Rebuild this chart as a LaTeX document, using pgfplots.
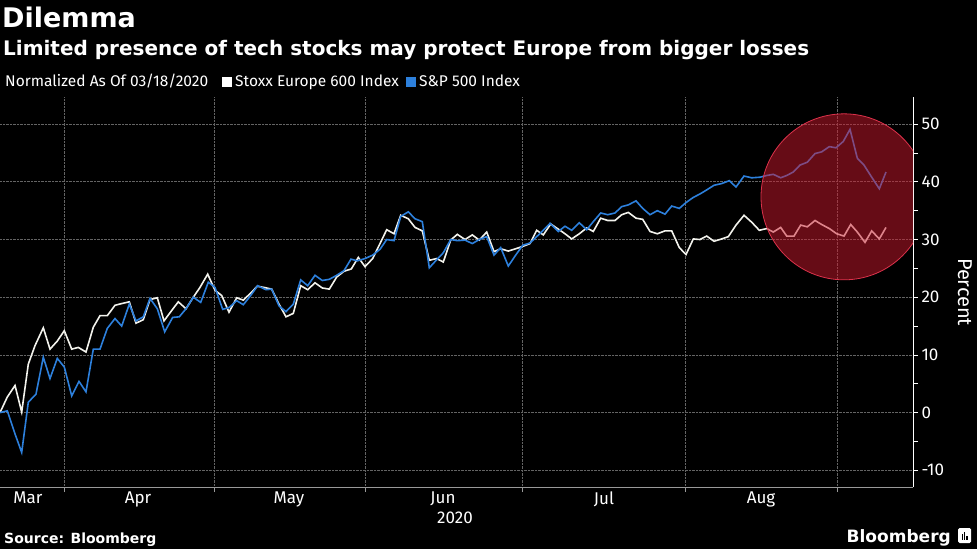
\documentclass[border=0pt]{standalone}
\usepackage{fontspec}
\setmainfont{Fira Sans}
\newfontfamily\bbold{DejaVu Sans}
\usepackage{graphicx}
\usepackage{pgfplots}
\pgfplotsset{compat=1.18}
\definecolor{spx}{RGB}{45,128,220}
\definecolor{sxx}{RGB}{242,242,236}
\definecolor{gridc}{RGB}{100,100,100}
\definecolor{circfill}{RGB}{205,25,45}
\definecolor{circedge}{RGB}{220,50,75}
\begin{document}
\begin{tikzpicture}[x=1pt,y=1pt]
\fill[black] (0,0) rectangle (977,549);
\useasboundingbox (0,0) rectangle (977,549);
% titles
\node[anchor=base west, text=white, inner sep=0, font=\bbold\bfseries\fontsize{27}{27}\selectfont] at (2,521) {Dilemma};
\node[anchor=base west, text=white, inner sep=0, font=\bbold\bfseries\fontsize{20}{20}\selectfont] at (3,493) {Limited presence of tech stocks may protect Europe from bigger losses};
% legend
\node[anchor=base west, text=white, inner sep=0, font=\fontsize{15.5}{15.5}\selectfont] at (5,462) {Normalized As Of 03/18/2020};
\fill[white] (222,462) rectangle (232,472);
\node[anchor=base west, text=white, inner sep=0, font=\fontsize{15.5}{15.5}\selectfont] at (235,462) {Stoxx Europe 600 Index};
\fill[spx] (406,462) rectangle (416,472);
\node[anchor=base west, text=white, inner sep=0, font=\fontsize{15.5}{15.5}\selectfont] at (419,462) {S\&P 500 Index};
% footer
\node[anchor=base west, text=white, inner sep=0, font=\bbold\bfseries\fontsize{14}{14}\selectfont] at (4,6) {Source: Bloomberg};
\node[anchor=base east, text=white, inner sep=0, font=\bbold\bfseries\fontsize{17}{17}\selectfont] at (951,7) {Bloomberg};
\fill[white, rounded corners=1.5pt] (958,6) rectangle (971,21);
\fill[black] (961.5,9) rectangle (962.9,15);
\fill[black] (963.8,9) rectangle (965.2,17);
\fill[black] (966.1,9) rectangle (967.5,13);
\node[anchor=base, text=white, inner sep=0, font=\fontsize{17}{17}\selectfont] at (455,26) {2020};
\begin{axis}[
  at={(0pt,136.4pt)}, anchor=origin,
  scale only axis, width=913pt, height=390pt,
  xmin=0, xmax=913, ymin=-12.9, ymax=54.7,
  axis x line*=bottom, axis y line*=right,
  axis line style={white, line width=1pt},
  x axis line style={draw=gray!80!white, line width=0.8pt, -},
  y axis line style={-},
  xtick={64,214,365,522,685,837},
  xticklabels={},
  extra x ticks={28,138,289,443,604,761},
  extra x tick labels={Mar,Apr,May,Jun,Jul,Aug},
  extra x tick style={grid=none, major tick length=0pt, tick style={draw=none}},
  xmajorgrids,
  ytick={-10,0,10,20,30,40,50},
  minor ytick={-5,5,15,25,35,45},
  ymajorgrids,
  major grid style={gridc, densely dotted, line width=0.7pt},
  tick align=outside,
  major tick length=5pt, minor tick length=5pt,
  tick style={white, line width=0.8pt},
  x tick style={gray!80!white},
  xticklabel style={text=white, font=\fontsize{17}{17}\selectfont, yshift=-1pt},
  yticklabel style={text=white, font=\fontsize{17}{17}\selectfont, xshift=0pt},
  /pgf/number format/assume math mode=true,
  ylabel={Percent},
  ylabel style={rotate=180, text=white, font=\fontsize{20}{20}\selectfont, yshift=7pt},
  clip=true,
]
\addplot[sxx, line width=1.6pt] coordinates {
(0,0) (7.3,2.7) (15,4.7) (21.7,0.1) (28.3,8.4) (35,11.6) (43.3,14.7) (50,11.0) (57.3,12.4) (64.3,14.2) (71.7,11.0) (78.3,11.3) (86,10.5) (93.3,14.8) (100,16.8) (107.3,16.8) (115,18.6) (121.7,18.9) (129.3,19.2) (136,15.5) (143.3,16.1) (150,19.6) (157.3,19.9) (164,15.9) (171.7,17.7) (178.3,19.2) (186,18.0) (193.3,20.0) (200,21.7) (207.7,24.0) (215,21.2) (221.7,20.3) (229,17.4) (236.7,19.9) (243.3,19.5) (250,20.6) (257.3,21.9) (264,21.7) (271.7,21.4) (279,18.8) (286,16.6) (293.3,17.2) (300.7,22.0) (307.7,21.3) (315,22.5) (322.3,21.6) (329.3,21.4) (336.7,23.5) (344,24.5) (351.3,24.9) (358.3,26.9) (365,25.3) (372.7,26.7) (380,29.3) (386.7,31.7) (394,31.0) (400.7,34.2) (408.3,33.6) (415,32.1) (422.3,31.5) (429.3,26.4) (436.7,26.7) (443.3,26.1) (450.7,29.9) (457.3,30.9) (465,30.0) (472.3,30.8) (479.3,29.9) (486.7,31.3) (494,27.9) (500.7,28.4) (508.3,28.0) (515.7,28.4) (522.7,28.8) (530,29.3) (536.7,31.6) (543.3,30.8) (550.7,32.7) (558.3,31.8) (565,31.0) (571.7,30.1) (579.3,31.0) (586.7,32.0) (593.3,31.4) (600.7,33.7) (607.7,33.3) (615,33.3) (621.7,34.3) (628.3,34.7) (636,33.7) (642.7,33.5) (650,31.4) (657.3,31.0) (665,31.5) (671.7,31.5) (679.3,28.6) (686,27.4) (693.3,30.1) (700,30.0) (706.7,30.6) (714,29.7) (721.7,30.1) (728.3,30.5) (736,32.5) (744,34.2) (751.7,33.0) (759.3,31.6) (766.7,31.9) (773.3,31.3) (780.7,32.1) (786.7,30.6) (794,30.6) (800.7,32.5) (807.3,32.2) (815,33.3) (821.7,32.6) (829.3,31.9) (836.7,31.0) (844,30.6) (850.7,32.6) (857.3,31.3) (865,29.5) (871.7,31.5) (879.3,30.1) (886,32.1)
};
\addplot[spx, line width=1.6pt] coordinates {
(0,0) (7.3,0.3) (15,-3.7) (21.7,-6.9) (28.3,1.8) (36,3.2) (43.3,9.6) (50,5.9) (57.3,9.4) (64.3,7.9) (71.7,2.9) (79,5.4) (86,3.6) (93.3,11.0) (100,11.0) (107.3,14.6) (115,16.3) (121.7,15.0) (129.3,18.8) (136,15.9) (143.3,16.6) (150,19.8) (157.3,18.0) (164.7,14.0) (172.7,16.5) (179.3,16.6) (186,18.0) (193.3,20.0) (200.7,19.1) (208.3,22.6) (215,21.7) (222.7,17.9) (229,18.2) (236.7,19.4) (243.3,18.7) (250.7,20.3) (257.7,22.0) (266,21.3) (271.7,21.4) (279,18.5) (286,17.5) (293.3,18.8) (300.7,23.0) (307.7,22.0) (315,23.8) (322.3,22.9) (329.3,23.1) (336.7,23.8) (344,24.6) (351,26.6) (357.3,26.3) (365,26.7) (372.7,27.3) (380,28.3) (386.7,30.0) (394,29.8) (400.7,34.0) (408.3,34.8) (415,33.6) (422.3,33.1) (429.3,25.1) (436.7,26.5) (443.3,27.7) (450.7,30.0) (457.3,29.8) (465,29.9) (472.3,29.3) (479.3,30.0) (486.7,30.5) (494,27.3) (500.7,28.6) (508.3,25.4) (515.7,27.3) (522.7,29.0) (530,29.4) (536.7,30.5) (543.3,31.6) (550,32.8) (558.3,31.4) (565,32.3) (571.7,31.6) (579.3,32.9) (586.7,31.7) (593.3,33.1) (600.7,34.6) (607.7,34.3) (615,34.6) (621.7,35.7) (628.3,36.0) (636,36.7) (642.7,35.4) (650,34.3) (657.3,35.0) (665,34.4) (671.7,35.8) (679.3,35.4) (686,36.4) (693.3,37.3) (700,37.9) (706.7,38.6) (714,39.4) (721.7,39.7) (729.3,40.2) (736,39.1) (744,41.0) (751.7,40.7) (760,40.8) (766.7,41.1) (773.3,41.3) (780.7,40.7) (786.7,41.1) (793.3,41.7) (800,42.9) (807.3,43.4) (815,44.9) (821.7,45.2) (829.3,46.1) (836,45.9) (843.3,47.0) (850,49.1) (857.3,44.1) (864,42.9) (871.7,40.8) (879.3,38.8) (886,41.7)
};
\fill[circfill, fill opacity=0.5] (axis cs:844,37.4) circle[radius=83pt];
\draw[circedge, line width=0.8pt] (axis cs:844,37.4) circle[radius=83pt];
\end{axis}
\end{tikzpicture}
\end{document}
